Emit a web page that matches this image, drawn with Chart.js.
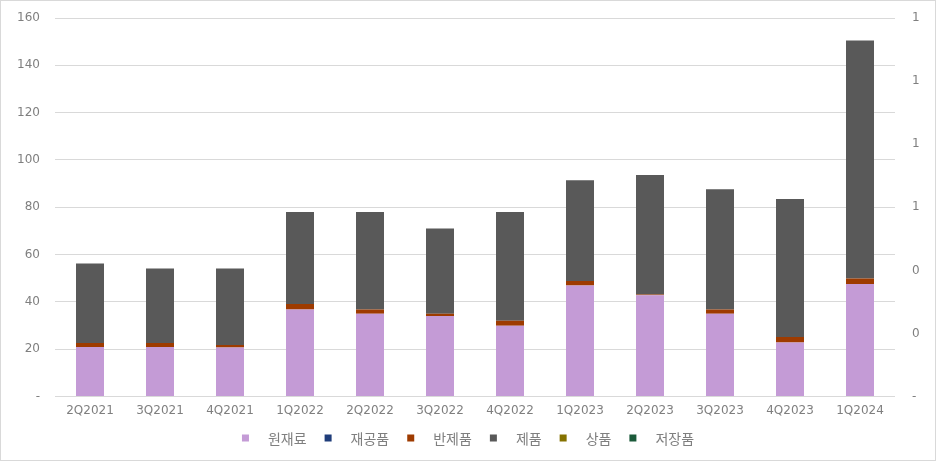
<!DOCTYPE html>
<html>
<head>
<meta charset="utf-8">
<script src="https://cdn.jsdelivr.net/npm/chart.js@4/dist/chart.umd.min.js"></script>
<style>
  html, body { margin: 0; padding: 0; background: #fff; }
  #wrap { width: 936px; height: 461px; box-sizing: border-box; border: 1px solid #d9d9d9; position: relative; }
  canvas { display: block; }
</style>
</head>
<body>
<div id="wrap"><canvas id="c" width="934" height="459"></canvas></div>
<script>
// inventory by quarter (값 읽음: 그림에서 추정)
const labels = ['2Q2021','3Q2021','4Q2021','1Q2022','2Q2022','3Q2022','4Q2022','1Q2023','2Q2023','3Q2023','4Q2023','1Q2024'];
const rawMat   = [21, 21, 20.8, 36.8, 35, 34.1, 29.9, 46.9, 42.8, 35, 22.9, 47.6];
const wip      = [0, 0, 0, 0, 0, 0, 0, 0, 0, 0, 0, 0];
const semi     = [1.7, 1.7, 1, 2.3, 1.8, 0.9, 2.2, 2, 0.3, 1.8, 2.3, 2.3];
const finished = [33.5, 31.4, 32.3, 38.9, 41.2, 36, 45.9, 42.5, 50.5, 50.8, 58.3, 100.6];
const goods    = [0, 0, 0, 0, 0, 0, 0, 0, 0, 0, 0, 0];
const stored   = [0, 0, 0, 0, 0, 0, 0, 0, 0, 0, 0, 0];

const names  = ['원재료','재공품','반제품','제품','상품','저장품'];
const colors = ['#c49bd6','#1f3d7a','#9e3b00','#595959','#857200','#1b5a3a'];
const series = [rawMat, wip, semi, finished, goods, stored];

const tickFont = { family: "'DejaVu Sans', sans-serif", size: 12 };
const tickColor = '#7f7f7f';
const gridColor = '#d9d9d9';

// legend drawn at the bottom (excel style spacing)
const bottomLegend = {
  id: 'bottomLegend',
  afterDraw(chart) {
    const c = chart.ctx, box = 7, gapIn = 19, gapOut = 18;
    c.save();
    c.font = "14px 'Noto Sans CJK KR', sans-serif";
    c.textBaseline = 'middle';
    const widths = names.map(n => box + gapIn + c.measureText(n).width);
    const total = widths.reduce((a, b) => a + b, 0) + gapOut * (names.length - 1);
    let x = (chart.width - total) / 2;
    const y = 437;
    names.forEach((n, i) => {
      c.fillStyle = colors[i];
      c.fillRect(x, y - box / 2, box, box);
      c.fillStyle = '#7f7f7f';
      c.fillText(n, x + box + gapIn, y + 1);
      x += widths[i] + gapOut;
    });
    c.restore();
  }
};

new Chart(document.getElementById('c'), {
  type: 'bar',
  data: {
    labels,
    datasets: series.map((d, i) => ({
      label: names[i], data: d, backgroundColor: colors[i], borderWidth: 0,
      barPercentage: 0.4, categoryPercentage: 1
    }))
  },
  options: {
    responsive: false, animation: false,
    layout: { padding: { top: 17, bottom: 35, left: 0, right: 0 } },
    plugins: { legend: { display: false }, tooltip: { enabled: false } },
    scales: {
      x: {
        stacked: true,
        grid: { display: false, drawTicks: false },
        border: { display: false },
        ticks: { color: tickColor, font: tickFont, padding: 7, maxRotation: 0 }
      },
      y: {
        stacked: true, min: 0, max: 160,
        grid: { color: gridColor, drawTicks: false },
        border: { display: false },
        ticks: { stepSize: 20, color: tickColor, font: tickFont, padding: 15,
                 callback: v => v === 0 ? '-' : v },
        afterFit: s => { s.width = 54; s.paddingTop = 0; }
      },
      y2: {
        position: 'right', display: true, min: 0, max: 1.2,
        grid: { display: false, drawTicks: false },
        border: { display: false },
        ticks: { stepSize: 0.2, color: tickColor, font: tickFont, padding: 17,
                 callback: v => Math.round(v) === 0 && v < 0.1 ? '-' : Math.round(v) },
        afterFit: s => { s.width = 40; s.paddingTop = 0; }
      }
    }
  },
  plugins: [bottomLegend]
});
</script>
</body>
</html>
